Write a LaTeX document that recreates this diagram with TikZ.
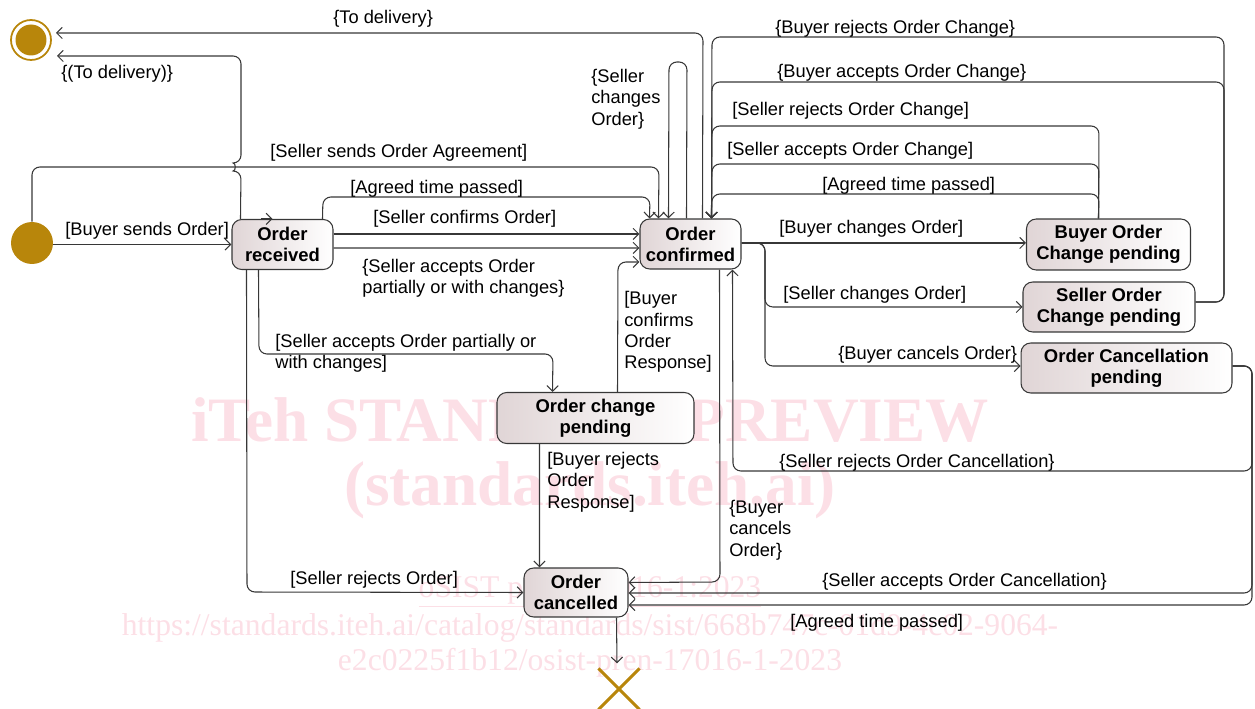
\documentclass[tikz,border=0pt]{standalone}
\usepackage{fontspec}
\setmainfont{Liberation Sans}
\newfontfamily\wmfont{Liberation Serif}
\usetikzlibrary{arrows.meta,calc,shapes.misc}
\definecolor{gold}{RGB}{184,134,11}
\definecolor{wire}{RGB}{55,55,55}
\definecolor{shade}{RGB}{224,213,214}
\definecolor{wm}{RGB}{252,223,230}
\begin{document}
\begin{tikzpicture}[x=0.02cm,y=-0.02cm,
  state/.style={draw=wire, line width=0.6pt, rounded corners=5.5pt, left color=shade, right color=white,
    inner sep=0pt, align=center, font=\fontsize{10.5}{12}\selectfont\bfseries},
  tr/.style={draw=wire, line width=0.6pt, rounded corners=4.5pt,
    -{Straight Barb[length=3.2pt,width=6.4pt,line width=0.6pt]}},
  lbl/.style={anchor=west, inner sep=0pt, align=left, yshift=-0.04cm, font=\fontsize{10.4}{12.2}\selectfont},
  wmark/.style={text=wm, inner sep=0pt}]
\useasboundingbox (0,0) rectangle (1255,709);

% watermark
\node[wmark, font=\wmfont\bfseries\fontsize{36}{40}\selectfont] (wm1) at (590,420) {iTeh STANDARD PREVIEW};
\node[wmark, font=\wmfont\bfseries\fontsize{36}{40}\selectfont] (wm2) at (590,490) {(standards.iteh.ai)};
\node[wmark, font=\wmfont\fontsize{18}{20}\selectfont] (wm3) at (590,592) {\underline{oSIST prEN 17016-1:2023}};
\node[wmark, font=\wmfont\fontsize{18}{20}\selectfont] (wm4) at (590,628) {https://standards.iteh.ai/catalog/standards/sist/668b747c-01d9-4c02-9064-};
\node[wmark, font=\wmfont\fontsize{18}{20}\selectfont] (wm5) at (590,663) {e2c0225f1b12/osist-pren-17016-1-2023};

% pseudo states
\node[circle, fill=gold, minimum size=0.84cm, inner sep=0pt] (init) at (32,243) {};
\node[circle, draw=gold, line width=1.0pt, minimum size=0.8cm, inner sep=0pt] (fin) at (31,40) {};
\fill[gold] (fin.center) circle (0.31cm);
\node[cross out, draw=gold, line width=1.8pt, minimum size=0.76cm, inner sep=0pt] (term) at (619,689) {};

% states
\node[state, minimum width=2.02cm, minimum height=1.0cm] (received) at (282.5,244.5) {Order\\received};
\node[state, minimum width=2.02cm, minimum height=1.0cm] (confirmed) at (690.5,244) {Order\\confirmed};
\node[state, minimum width=3.28cm, minimum height=1.02cm] (buyerpend) at (1108.5,244.5) {Buyer Order\\Change pending};
\node[state, minimum width=3.44cm, minimum height=1.0cm] (sellerpend) at (1109,307) {Seller Order\\Change pending};
\node[state, minimum width=4.22cm, minimum height=1.0cm] (cancpend) at (1126.5,368) {Order Cancellation\\pending};
\node[state, minimum width=3.94cm, minimum height=1.02cm] (chgpend) at (595.5,418) {Order change\\pending};
\node[state, minimum width=2.08cm, minimum height=0.98cm] (cancelled) at (576,592.5) {Order\\cancelled};

% transitions from the initial state
\draw[tr] (received.west -| init.east) -- (received.west);
\draw[tr] (init.north) -- (32,167) -- (659,167) -- ($(confirmed.north west)+(19,0)$);

% transitions out of Order received
\draw[tr] ($(received.north west)+(9,0)$) -- (241,171) .. controls (236,171) and (236,163) .. (241,163)
  -- (241,56) -- ($(fin.center)+(26,16)$);
\draw[tr] ($(received.north west)+(91,0)$) -- (323,197) -- (650,197) -- ($(confirmed.north west)+(10,0)$);
\draw[tr] ($(received.east)+(0,-10.5)$) -- ($(confirmed.west)+(0,-10)$);
\draw[tr] ($(received.east)+(0,3.5)$) -- ($(confirmed.west)+(0,4)$);
\draw[tr] ($(received.south west)+(27,0)$) -- (259,354) -- (553,354) -- ($(chgpend.north west)+(56,0)$);
\draw[tr] ($(received.south west)+(15,0)$) -- (247,592) -- (cancelled.west);
\draw[tr] ($(received.north west)+(30,0)$) -- ($(received.north west)+(41,0)$);

% transitions out of Order change pending
\draw[tr] ($(chgpend.north west)+(121,0)$) -- (618,262) -- ($(confirmed.west)+(0,18)$);
\draw[tr] ($(chgpend.south west)+(43,0)$) -- ($(cancelled.north west)+(16,0)$);

% transitions out of Order confirmed
\draw[tr] ($(confirmed.north west)+(63,0)$) -- (703,33) -- ($(fin.center)+(25,-7)$);
\draw[tr] ($(confirmed.north west)+(47,0)$) -- (687,62) -- (669,62) -- ($(confirmed.north west)+(29,0)$);
\draw[tr] ($(confirmed.south west)+(80,0)$) -- (720,582) -- ($(cancelled.east)+(0,-10)$);
\draw[tr] ($(confirmed.east)+(0,-1)$) -- ($(buyerpend.west)+(0,-1.5)$);
\draw[tr] ($(confirmed.east)+(0,-1)$) -- (765,243) -- (765,307) -- (sellerpend.west);
\draw[tr] ($(confirmed.east)+(0,-1)$) -- (765,243) -- (765,366) -- ($(cancpend.west)+(0,-2)$);

% transitions back from the change states
\draw[tr] ($(sellerpend.east)+(0,-5)$) -- (1224,302) -- (1224,37) -- (712,37) -- ($(confirmed.north west)+(72,0)$);
\draw[tr] ($(sellerpend.east)+(0,-5)$) -- (1224,302) -- (1224,82) -- (712,82) -- ($(confirmed.north west)+(72,0)$);
\draw[tr] ($(buyerpend.north west)+(72.5,0)$) -- (1099,126) -- (712,126) -- ($(confirmed.north west)+(72,0)$);
\draw[tr] ($(buyerpend.north west)+(72.5,0)$) -- (1099,164) -- (712,164) -- ($(confirmed.north west)+(72,0)$);
\draw[tr] ($(buyerpend.north west)+(72.5,0)$) -- (1099,194) -- (712,194) -- ($(confirmed.north west)+(72,0)$);

% transitions out of Order Cancellation pending
\draw[tr] ($(cancpend.east)+(0,-2)$) -- (1252,366) -- (1252,471) -- (733,471) -- ($(confirmed.south west)+(93,0)$);
\draw[tr] ($(cancpend.east)+(0,-2)$) -- (1252,366) -- (1252,593) -- ($(cancelled.east)+(0,0.5)$);
\draw[tr] ($(cancpend.east)+(0,-2)$) -- (1252,366) -- (1252,605) -- ($(cancelled.east)+(0,12.5)$);

% termination
\draw[tr] ($(cancelled.south west)+(93,0)$) -- ($(term.north)+(-2,-5)$);

% guards and events
\node[lbl] (l1) at (65,229) {[Buyer sends Order]};
\node[lbl] (l2) at (270,151) {[Seller sends Order Agreement]};
\node[lbl] (l3) at (333,17) {\{To delivery\}};
\node[lbl] (l4) at (61,72) {\{(To delivery)\}};
\node[lbl] (l5) at (350,187) {[Agreed time passed]};
\node[lbl] (l6) at (373,217) {[Seller confirms Order]};
\node[lbl] (l7) at (362,276) {\{Seller accepts Order\\partially or with changes\}};
\node[lbl] (l8) at (275,351) {[Seller accepts Order partially or\\with changes]};
\node[lbl] (l9) at (591,97) {\{Seller\\changes\\Order\}};
\node[lbl] (l10) at (624,330) {[Buyer\\confirms\\Order\\Response]};
\node[lbl] (l11) at (547,480) {[Buyer rejects\\Order\\Response]};
\node[lbl] (l12) at (729,528) {\{Buyer\\cancels\\Order\}};
\node[lbl] (l13) at (290,578) {[Seller rejects Order]};
\node[lbl] (l14) at (775,27) {\{Buyer rejects Order Change\}};
\node[lbl] (l15) at (777,71) {\{Buyer accepts Order Change\}};
\node[lbl] (l16) at (732,109) {[Seller rejects Order Change]};
\node[lbl] (l17) at (727,149) {[Seller accepts Order Change]};
\node[lbl] (l18) at (822,184) {[Agreed time passed]};
\node[lbl] (l19) at (779,227) {[Buyer changes Order]};
\node[lbl] (l20) at (783,293) {[Seller changes Order]};
\node[lbl] (l21) at (838,353) {\{Buyer cancels Order\}};
\node[lbl] (l22) at (779,461) {\{Seller rejects Order Cancellation\}};
\node[lbl] (l23) at (822,580) {\{Seller accepts Order Cancellation\}};
\node[lbl] (l24) at (790,621) {[Agreed time passed]};
\end{tikzpicture}
\end{document}
